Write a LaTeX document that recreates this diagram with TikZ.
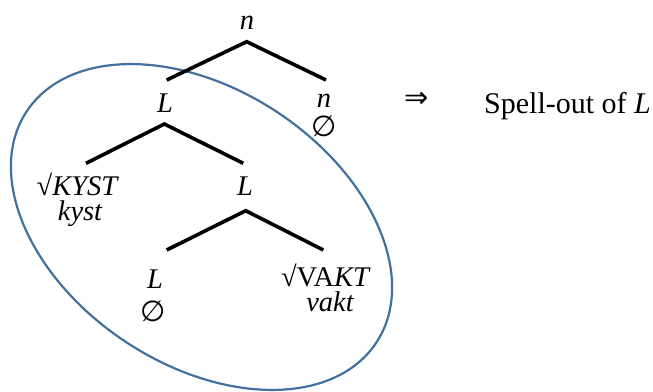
\documentclass[tikz,border=0pt]{standalone}
\usepackage{fontspec}
\setmainfont{Liberation Serif}
\newfontfamily\symfont{DejaVu Sans}
\definecolor{ellblue}{HTML}{41719C}
\begin{document}
\begin{tikzpicture}[x=1pt,y=-1pt,
  lbl/.style={anchor=base,inner sep=0pt,font=\fontsize{28.5}{28.5}\selectfont\itshape},
  rootlbl/.style={lbl,text depth=0pt},
  formlbl/.style={lbl,text height=0.6em},
  symb/.style={inner sep=0pt,font=\fontsize{29}{29}\selectfont\symfont},
  branch/.style={line width=3.6pt,black}]
\useasboundingbox (0,0) rectangle (653,391);
% ellipse
\draw[ellblue,line width=2.2pt,rotate around={-33.5:(201.5,227)}]
  (201.5,227) ellipse [x radius=209.6pt,y radius=137.6pt];
% branch points
\coordinate (a1) at (246.7,41.7);
\coordinate (a1l) at (166.7,80);
\coordinate (a1r) at (326,80);
\coordinate (a2) at (164.3,124);
\coordinate (a2l) at (86,163.3);
\coordinate (a2r) at (243.3,163.3);
\coordinate (a3) at (245.7,210.7);
\coordinate (a3l) at (166.7,250);
\coordinate (a3r) at (323.3,250);
\draw[branch] (a1l) -- (a1) -- (a1r);
\draw[branch] (a2l) -- (a2) -- (a2r);
\draw[branch] (a3l) -- (a3) -- (a3r);
% labels
\node[lbl] (n0) at (247,29) {n};
\node[lbl] (L1) at (165,112) {L};
\node[lbl] (n1) at (324,107) {n};
\node[symb] (e1) at (324,126) {∅};
\node[rootlbl] (kystroot) at (77,195) {\upshape√\itshape KYST};
\node[formlbl] (kyst) at (80,220) {kyst};
\node[lbl] (L2) at (245,195) {L};
\node[lbl] (L3) at (155,288) {L};
\node[symb] (e3) at (153,311) {∅};
\node[rootlbl] (vaktroot) at (325,286) {\upshape√VA\itshape KT};
\node[formlbl] (vakt) at (330,311) {vakt};
\node[symb] (arrow) at (417,100) {⇒};
\node[anchor=base west,inner sep=0pt,font=\fontsize{30}{30}\selectfont] (spell) at (484,113) {Spell-out of \textit{L}};
\end{tikzpicture}
\end{document}
